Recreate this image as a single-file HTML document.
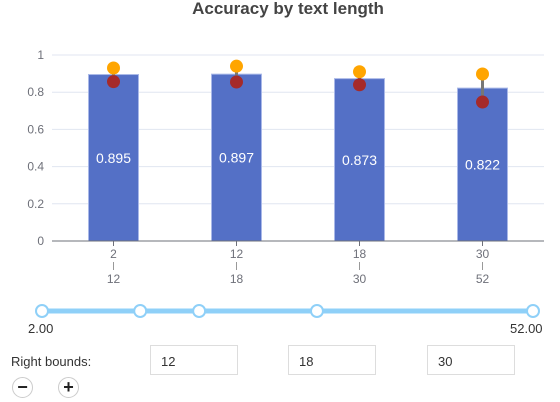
<!DOCTYPE html>
<html><head><meta charset="utf-8"><style>
body{margin:0;width:560px;height:402px;background:#fff;font-family:"Liberation Sans",sans-serif;position:relative;overflow:hidden}
.inp{position:absolute;top:345px;width:88px;height:30px;border:1px solid #ddd;box-sizing:border-box;font-size:13px;color:#333;padding:8px 0 0 10px}
.btn{position:absolute;top:377px;width:21px;height:21px;border:1px solid #ccc;border-radius:50%;box-sizing:border-box;text-align:center;font-size:18px;line-height:18px;font-weight:bold;color:#222}
</style></head><body>
<svg id="chart" width="560" height="300" style="position:absolute;left:0;top:0"></svg>
<div style="position:absolute;left:0;top:300px;width:560px;height:30px">
<svg id="slider" width="560" height="30"></svg></div>
<div style="position:absolute;left:28px;top:321px;font-size:13px;color:#333">2.00</div>
<div style="position:absolute;left:510px;top:321px;font-size:13px;color:#333">52.00</div>
<div style="position:absolute;left:11px;top:354px;font-size:13px;color:#333">Right bounds:</div>
<div class="inp" style="left:150px">12</div>
<div class="inp" style="left:288px">18</div>
<div class="inp" style="left:427px">30</div>
<div class="btn" style="left:12px">−</div>
<div class="btn" style="left:58px">+</div>
<script>
const lefts=["2","12","18","30"];
const rights=["12","18","30","52"];
const accuracy=[0.895,0.897,0.873,0.822];
const upper=[0.93,0.94,0.91,0.898];
const lower=[0.857,0.855,0.84,0.747];
const yTicks=[0,0.2,0.4,0.6,0.8,1];
const handles=[2,12,18,30,52];
const NS="http://www.w3.org/2000/svg";
const svg=document.getElementById('chart');
function mk(t,a,p){const e=document.createElementNS(NS,t);for(const k in a)e.setAttribute(k,a[k]);(p||svg).appendChild(e);return e;}
const x0=52,x1=544,yb=241,yt=55;
const y=v=>yb-(yb-yt)*v;
const bw=(x1-x0)/lefts.length;
const xc=i=>x0+bw*(i+0.5);
let t=mk('text',{x:288,y:14,'text-anchor':'middle','font-size':17,'font-weight':'bold',fill:'#444'});t.textContent='Accuracy by text length';


yTicks.forEach(v=>{
 if(v>0){const g=mk('line',{x1:x0,x2:x1,y1:y(v),y2:y(v),stroke:'#e0e6f1'});
 
 }
 const l=mk('text',{x:44,y:y(v)+4,'text-anchor':'end','font-size':12,fill:'#6e7079'});l.textContent=String(v);
 
 
});
lefts.forEach((c,i)=>{
 const b=mk('rect',{x:xc(i)-25,y:y(accuracy[i]),width:50,height:yb-y(accuracy[i]),fill:'#5470c6',stroke:'#a9b8e8','stroke-width':1});
 
 
 const v=mk('text',{x:xc(i),y:y(accuracy[i]/2)+5,'text-anchor':'middle','font-size':14,fill:'#fff'});v.textContent=accuracy[i].toFixed(3);
 
 
 mk('line',{x1:xc(i),x2:xc(i),y1:y(upper[i]),y2:y(lower[i]),stroke:'#777','stroke-width':3});
 const o=mk('circle',{cx:xc(i),cy:y(upper[i]),r:6.5,fill:'#ffa500'});
 
 
 const r=mk('circle',{cx:xc(i),cy:y(lower[i]),r:6.5,fill:'#a52a2a'});
 
 
 mk('line',{x1:xc(i),x2:xc(i),y1:yb,y2:yb+5,stroke:'#6e7079'});
 const a=mk('text',{x:xc(i),y:258,'text-anchor':'middle','font-size':12,fill:'#6e7079'});a.textContent=c;
 
 
 mk('line',{x1:xc(i),x2:xc(i),y1:262,y2:270,stroke:'#999'});
 const bb=mk('text',{x:xc(i),y:283,'text-anchor':'middle','font-size':12,fill:'#6e7079'});bb.textContent=rights[i];
 
 
});
const ax=mk('line',{x1:x0,x2:x1,y1:yb,y2:yb,stroke:'#6e7079'});


const s=document.getElementById('slider');
const sx=v=>42+(533-42)*(v-2)/50;
mk('line',{x1:sx(2),x2:sx(52),y1:11,y2:11,stroke:'#8fd0f8','stroke-width':5},s);
handles.forEach(h=>{
 const c=mk('circle',{cx:sx(h),cy:11,r:6,fill:'#fff',stroke:'#8fd0f8','stroke-width':2},s);
 
 
});
</script>
</body></html>
